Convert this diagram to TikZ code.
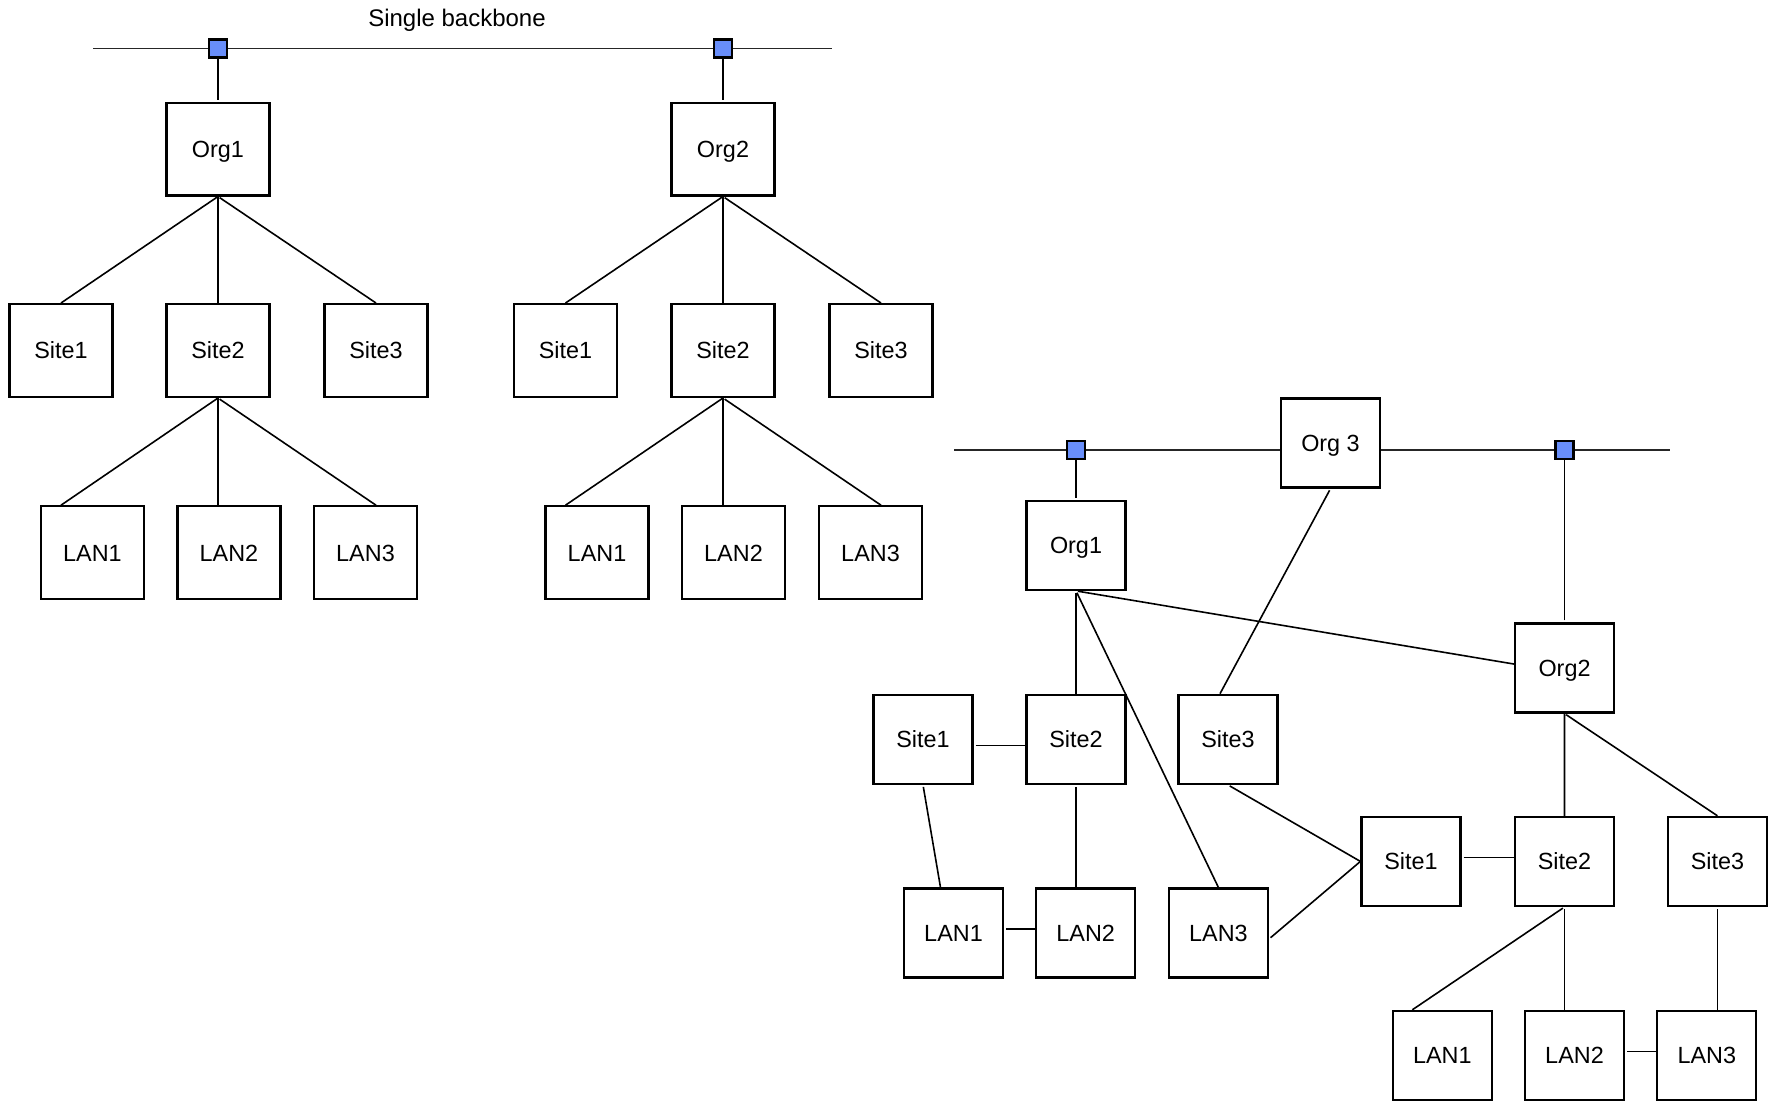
\documentclass[tikz,border=0pt]{standalone}
\usepackage{fontspec}
\setmainfont{Liberation Sans}
\usepackage{tikz}

\definecolor{tapblue}{RGB}{104,142,250}

\tikzset{
	bigbox/.style={draw=black, line width=1.1pt, minimum width=51.5pt, minimum height=46.4pt, inner sep=0pt, text height=8.4pt, text depth=0pt, font=\fontsize{11.7}{14}\selectfont},
	smallbox/.style={draw=black, line width=1.1pt, minimum width=49.5pt, minimum height=44.5pt, inner sep=0pt, text height=8.4pt, text depth=0pt, font=\fontsize{11.7}{14}\selectfont},
	tap/.style={draw=black, fill=tapblue, line width=1.1pt, minimum size=9pt, inner sep=0pt},
	link/.style={draw=black, line width=0.8pt, shorten <=1pt},
	wire/.style={draw=black!85, line width=0.8pt}
}

\begin{document}
\begin{tikzpicture}[x=0.5pt, y=-0.5pt]
			\useasboundingbox (0,0) rectangle (1773,1100);
			
			\node[font=\fontsize{12}{14}\selectfont] (title) at (457,20) {Single backbone};
			\coordinate (bbA) at (93,48.5);
			\coordinate (bbB) at (832,48.5);
			\draw[wire] (bbA)--(bbB);
			
			\node[bigbox] (org1) at (218,149) {Org1};
			\node[bigbox] (org2) at (723,149) {Org2};
			\node[bigbox] (s11) at (61,350.5) {Site1};
			\node[bigbox] (s12) at (218,350.5) {Site2};
			\node[bigbox] (s13) at (376,350.5) {Site3};
			\node[bigbox] (s21) at (565.5,350.5) {Site1};
			\node[bigbox] (s22) at (723,350.5) {Site2};
			\node[bigbox] (s23) at (881,350.5) {Site3};
			\node[bigbox] (l11) at (92.5,552.7) {LAN1};
			\node[bigbox] (l12) at (229,552.7) {LAN2};
			\node[bigbox] (l13) at (365.5,552.7) {LAN3};
			\node[bigbox] (l21) at (597,552.7) {LAN1};
			\node[bigbox] (l22) at (733.5,552.7) {LAN2};
			\node[bigbox] (l23) at (870.5,552.7) {LAN3};
			
			\draw[link] (org1.north)--(org1.north |- bbA);
			\draw[link] (org2.north)--(org2.north |- bbA);
			\node[tap] (tap1) at (org1.north |- bbA) {};
			\node[tap] (tap2) at (org2.north |- bbA) {};
			
			\draw[link] (org1.south)--(s11.north)  (org1.south)--(s12.north)  (org1.south)--(s13.north);
			\draw[link] (org2.south)--(s21.north)  (org2.south)--(s22.north)  (org2.south)--(s23.north);
			\draw[link] (s12.south)--(l11.north -| s11)  (s12.south)--(l12.north -| s12)  (s12.south)--(l13.north -| s13);
			\draw[link] (s22.south)--(l21.north -| s21)  (s22.south)--(l22.north -| s22)  (s22.south)--(l23.north -| s23);
			
			\coordinate (bbC) at (954,450);
			\coordinate (bbD) at (1670,450);
			\node[smallbox] (org3) at (1330.5,443) {Org 3};
			\draw[wire] (bbC)--(bbC -| org3.west)  (bbD -| org3.east)--(bbD);
			
			\node[smallbox] (borg1) at (1076,545.3) {Org1};
			\node[smallbox] (borg2) at (1564.5,668) {Org2};
			\node[smallbox] (bs1) at (923,739.3) {Site1};
			\node[smallbox] (bs2) at (1076,739.3) {Site2};
			\node[smallbox] (bs3) at (1228,739.3) {Site3};
			\node[smallbox] (bl1) at (953.5,933) {LAN1};
			\node[smallbox] (bl2) at (1085.7,933) {LAN2};
			\node[smallbox] (bl3) at (1218.4,933) {LAN3};
			\node[smallbox] (cs1) at (1411,861.4) {Site1};
			\node[smallbox] (cs2) at (1564.5,861.4) {Site2};
			\node[smallbox] (cs3) at (1717.4,861.4) {Site3};
			\node[smallbox] (cl1) at (1442.3,1055.4) {LAN1};
			\node[smallbox] (cl2) at (1574.5,1055.4) {LAN2};
			\node[smallbox] (cl3) at (1706.8,1055.4) {LAN3};
			
			\draw[link] (borg1.north)--(borg1.north |- bbC);
			\draw[link] (borg2.north)--(borg2.north |- bbC);
			\node[tap] (tap3) at (borg1.north |- bbC) {};
			\node[tap] (tap4) at (borg2.north |- bbC) {};
			
			\draw[link] (org3.south)--([xshift=-4pt]bs3.north);
			\draw[link] (borg1.south)--([yshift=2pt]borg2.west);
			\draw[link] (borg1.south)--(bs2.north);
			\draw[link] (borg1.south)--(bl3.north);
			\draw[link] ([yshift=-3pt]bs1.east)--([yshift=-3pt]bs2.west);
			\draw[link] (bs1.south)--([xshift=-6.5pt]bl1.north);
			\draw[link] (bs2.south)--(bs2.south |- bl2.north);
			\draw[link] ([yshift=2pt]bl1.east)--([yshift=2pt]bl2.west);
			\draw[link] (bs3.south)--(cs1.west);
			\draw[link] ([yshift=-3pt]bl3.east)--(cs1.west);
			\draw[link] ([yshift=2pt]cs1.east)--([yshift=2pt]cs2.west);
			\draw[link] (borg2.south)--(cs2.north)  (borg2.south)--(cs3.north);
			\draw[link] (cs2.south)--([xshift=-15pt]cl1.north);
			\draw[link] (cs2.south)--(cs2.south |- cl2.north);
			\draw[link] (cs3.south)--(cs3.south |- cl3.north);
			\draw[link] ([yshift=2pt]cl2.east)--([yshift=2pt]cl3.west);
		\end{tikzpicture}
\end{document}
